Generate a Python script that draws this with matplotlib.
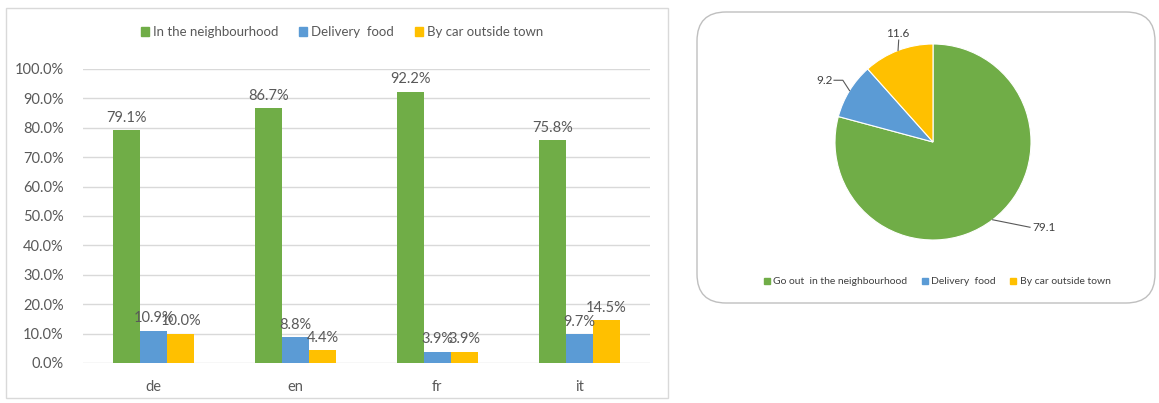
import matplotlib
matplotlib.use("Agg")
import matplotlib.pyplot as plt
from matplotlib.patches import Patch, Rectangle, FancyBboxPatch
import numpy as np

plt.rcParams['font.family'] = ['Lato', 'DejaVu Sans']

# ------------------------------------------------------------------
# data
# ------------------------------------------------------------------
languages = ["de", "en", "fr", "it"]
series_names = ["In the neighbourhood", "Delivery  food", "By car outside town"]
neighbourhood = [79.1, 86.7, 92.2, 75.8]
delivery = [10.9, 8.8, 3.9, 9.7]
by_car = [10.0, 4.4, 3.9, 14.5]

pie_names = ["Go out  in the neighbourhood", "Delivery  food", "By car outside town"]
pie_values = [79.1, 9.2, 11.6]

colors = ["#70AD47", "#5B9BD5", "#FFC000"]
text_grey = "#595959"
grid_grey = "#D9D9D9"

W, H = 1159, 403
fig = plt.figure(figsize=(W / 100, H / 100), dpi=100)


def box(x0, y0, x1, y1):
    """pixel box (top-left origin) -> figure fraction rect"""
    return [x0 / W, 1 - y1 / H, (x1 - x0) / W, (y1 - y0) / H]


# panel frames
fig.patches.append(Rectangle((6 / W, 1 - 398 / H), 662 / W, 390 / H,
                             transform=fig.transFigure, facecolor="none",
                             edgecolor=grid_grey, lw=1.0))
fig.patches.append(FancyBboxPatch((697 / W, 1 - 303 / H), 458 / W, 291 / H,
                                  boxstyle="round,pad=0,rounding_size=0.025",
                                  transform=fig.transFigure, facecolor="none",
                                  edgecolor="#BFBFBF", lw=1.0,
                                  mutation_aspect=W / H))

# ------------------------------------------------------------------
# grouped bars
# ------------------------------------------------------------------
ax = fig.add_axes(box(83, 69, 650, 363))
x = np.arange(len(languages))
bw = 0.19
for i, (vals, c) in enumerate(zip([neighbourhood, delivery, by_car], colors)):
    bars = ax.bar(x + (i - 1) * bw, vals, width=bw, color=c, zorder=3)
    for b, v in zip(bars, vals):
        ax.annotate(f"{v:.1f}%", (b.get_x() + b.get_width() / 2, v),
                    xytext=(0, 4), textcoords="offset points",
                    ha="center", va="bottom", fontsize=10.5, color=text_grey,
                    zorder=4)

ax.set_xlim(-0.5, len(languages) - 0.5)
ax.set_ylim(0, 100)
ax.set_yticks(np.arange(0, 101, 10))
ax.set_yticklabels([f"{t:.1f}%" for t in np.arange(0, 101, 10)])
ax.set_xticks(x)
ax.set_xticklabels(languages)
ax.tick_params(length=0, labelsize=10.5, labelcolor=text_grey)
ax.tick_params(axis="x", pad=12)
ax.tick_params(axis="y", pad=14)
ax.grid(axis="y", color=grid_grey, lw=1.0, zorder=0)
for s in ax.spines.values():
    s.set_visible(False)

fig.legend([Patch(color=c) for c in colors], series_names,
           loc="center", bbox_to_anchor=(342 / W, 1 - 32 / H), ncol=3,
           frameon=False, fontsize=9.5, handlelength=0.6, handleheight=0.6,
           handletextpad=0.3, columnspacing=1.6, labelcolor=text_grey)

# ------------------------------------------------------------------
# pie
# ------------------------------------------------------------------
pax = fig.add_axes(box(835, 44, 1031, 240))
wedges, _ = pax.pie(pie_values, colors=colors, startangle=90, counterclock=False,
                    wedgeprops=dict(edgecolor="white", lw=0.8))
pax.set_xlim(-1, 1)
pax.set_ylim(-1, 1)
pax.set_aspect("equal")

# leader line bend points and label anchors (pie radius units)
leaders = [
    [(0.99, -0.87)],
    [(-0.92, 0.63), (-1.01, 0.63)],
    [(-0.35, 1.04)],
]
label_pos = [((1.01, -0.87), "left", "center"),
             ((-1.02, 0.63), "right", "center"),
             ((-0.36, 1.05), "center", "bottom")]
for w, v, bends, (pos, ha, va) in zip(wedges, pie_values, leaders, label_pos):
    mid = np.deg2rad((w.theta1 + w.theta2) / 2)
    pts = [(np.cos(mid), np.sin(mid))] + bends
    xs, ys = zip(*pts)
    pax.plot(xs, ys, color="#595959", lw=0.8, clip_on=False)
    pax.text(*pos, f"{v:.1f}", ha=ha, va=va, fontsize=8.5, color="#404040",
             clip_on=False)

fig.legend([Patch(color=c) for c in colors], pie_names,
           loc="center", bbox_to_anchor=(937 / W, 1 - 282 / H), ncol=3,
           frameon=False, fontsize=7.5, handlelength=0.6, handleheight=0.6,
           handletextpad=0.3, columnspacing=1.4, labelcolor="#404040")

fig.savefig("out.png", dpi=100)
